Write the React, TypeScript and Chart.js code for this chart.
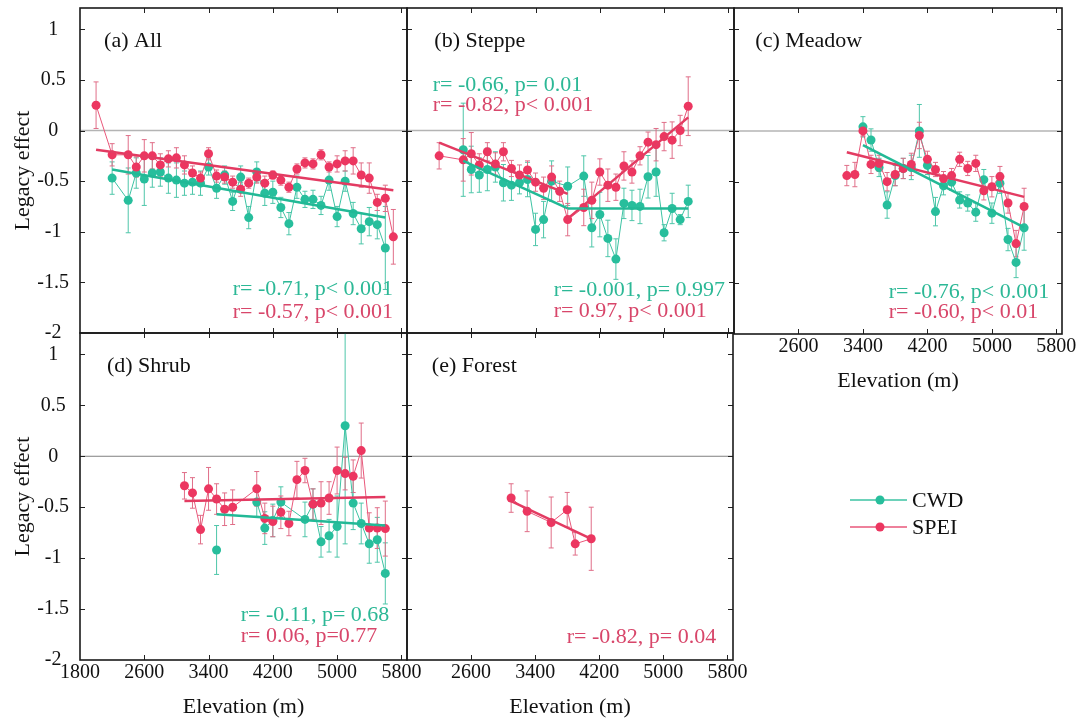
import React, { useEffect, useRef } from "react";
import { Chart, registerables } from "chart.js";

Chart.register(...registerables);

const FONT = '"Liberation Serif", "Times New Roman", serif';
const W = 1081;
const H = 722;

const TEAL = "#27be9c";
const TEAL_LINE = "#3cc3a3";
const TEAL_ERR = "#4ec6a9";
const TEAL_TREND = "#22b996";
const TEAL_TEXT = "#2cb896";
const RED = "#ec3660";
const RED_LINE = "#e9577a";
const RED_ERR = "#e06e88";
const RED_TREND = "#e33b62";
const RED_TEXT = "#d8466a";

// ---------- ticks ----------
const elevationTicks = [1800, 2600, 3400, 4200, 5000, 5800];
const effectTicks = [1, 0.5, 0, -0.5, -1, -1.5, -2];
const seriesNames = ["CWD", "SPEI"];

// ---------- (a) All ----------
const speiElevA = [2000, 2200, 2400, 2500, 2600, 2700, 2800, 2900, 3000, 3100, 3200, 3300, 3400, 3500, 3600, 3700, 3800, 3900, 4000, 4100, 4200, 4300, 4400, 4500, 4600, 4700, 4800, 4900, 5000, 5100, 5200, 5300, 5400, 5500, 5600, 5700];
const speiA = [0.25, -0.24, -0.24, -0.36, -0.25, -0.25, -0.34, -0.28, -0.27, -0.34, -0.42, -0.47, -0.23, -0.45, -0.46, -0.51, -0.58, -0.52, -0.46, -0.52, -0.44, -0.49, -0.56, -0.38, -0.32, -0.33, -0.24, -0.36, -0.33, -0.3, -0.3, -0.44, -0.47, -0.71, -0.67, -1.05];
const speiErrA = [0.23, 0.11, 0.19, 0.1, 0.16, 0.13, 0.11, 0.08, 0.1, 0.09, 0.07, 0.06, 0.06, 0.06, 0.06, 0.06, 0.07, 0.05, 0.06, 0.07, 0.04, 0.05, 0.05, 0.05, 0.05, 0.05, 0.05, 0.05, 0.08, 0.1, 0.13, 0.12, 0.15, 0.08, 0.13, 0.27];
const cwdElevA = [2200, 2400, 2500, 2600, 2700, 2800, 2900, 3000, 3100, 3200, 3300, 3400, 3500, 3600, 3700, 3800, 3900, 4000, 4100, 4200, 4300, 4400, 4500, 4600, 4700, 4800, 4900, 5000, 5100, 5200, 5300, 5400, 5500, 5600];
const cwdA = [-0.47, -0.69, -0.42, -0.48, -0.42, -0.41, -0.47, -0.49, -0.52, -0.51, -0.52, -0.36, -0.57, -0.44, -0.7, -0.46, -0.86, -0.41, -0.62, -0.61, -0.76, -0.92, -0.56, -0.68, -0.68, -0.74, -0.49, -0.85, -0.5, -0.82, -0.97, -0.9, -0.93, -1.16];
const cwdErrA = [0.16, 0.32, 0.15, 0.26, 0.14, 0.14, 0.15, 0.17, 0.12, 0.12, 0.12, 0.08, 0.1, 0.09, 0.09, 0.11, 0.11, 0.1, 0.12, 0.11, 0.1, 0.11, 0.11, 0.08, 0.09, 0.09, 0.1, 0.1, 0.1, 0.11, 0.15, 0.14, 0.14, 0.41];
const speiTrendElevA = [2000, 5700];
const speiTrendA = [-0.19, -0.59];
const cwdTrendElevA = [2200, 5600];
const cwdTrendA = [-0.385, -0.86];

// ---------- (b) Steppe ----------
const speiElevB = [2200, 2500, 2600, 2700, 2800, 2900, 3000, 3100, 3200, 3300, 3400, 3500, 3600, 3700, 3800, 4000, 4100, 4200, 4300, 4400, 4500, 4600, 4700, 4800, 4900, 5000, 5100, 5200, 5300];
const speiB = [-0.25, -0.29, -0.23, -0.34, -0.21, -0.33, -0.21, -0.375, -0.44, -0.39, -0.51, -0.57, -0.46, -0.6, -0.88, -0.76, -0.69, -0.41, -0.54, -0.56, -0.35, -0.41, -0.25, -0.115, -0.14, -0.06, -0.095, 0.0, 0.24];
const speiErrB = [0.13, 0.21, 0.21, 0.11, 0.09, 0.11, 0.09, 0.08, 0.1, 0.09, 0.09, 0.11, 0.11, 0.1, 0.16, 0.18, 0.18, 0.13, 0.16, 0.13, 0.14, 0.11, 0.09, 0.1, 0.16, 0.14, 0.18, 0.15, 0.29];
const cwdElevB = [2500, 2600, 2700, 2800, 2900, 3000, 3100, 3200, 3300, 3400, 3500, 3600, 3800, 4000, 4100, 4200, 4300, 4400, 4500, 4600, 4700, 4800, 4900, 5000, 5100, 5200, 5300];
const cwdB = [-0.19, -0.385, -0.44, -0.385, -0.36, -0.516, -0.54, -0.516, -0.484, -0.977, -0.88, -0.5, -0.55, -0.45, -0.96, -0.83, -1.066, -1.27, -0.72, -0.74, -0.75, -0.457, -0.41, -1.01, -0.77, -0.88, -0.7];
const cwdErrB = [0.46, 0.23, 0.17, 0.21, 0.15, 0.18, 0.15, 0.11, 0.17, 0.16, 0.18, 0.2, 0.19, 0.2, 0.19, 0.22, 0.18, 0.2, 0.15, 0.15, 0.17, 0.21, 0.24, 0.08, 0.15, 0.05, 0.16];
const speiTrend1ElevB = [2200, 3800];
const speiTrend1B = [-0.12, -0.625];
const speiTrend2ElevB = [3800, 5300];
const speiTrend2B = [-0.87, 0.13];
const cwdTrend1ElevB = [2500, 3800];
const cwdTrend1B = [-0.3, -0.77];
const cwdTrend2ElevB = [3800, 5300];
const cwdTrend2B = [-0.77, -0.77];

// ---------- (c) Meadow ----------
const speiElevC = [3200, 3300, 3400, 3500, 3600, 3700, 3800, 3900, 4000, 4100, 4200, 4300, 4400, 4500, 4600, 4700, 4800, 4900, 5000, 5100, 5200, 5300, 5400];
const speiC = [-0.44, -0.43, 0.0, -0.33, -0.32, -0.5, -0.43, -0.37, -0.33, -0.045, -0.28, -0.38, -0.47, -0.44, -0.28, -0.37, -0.32, -0.59, -0.55, -0.45, -0.71, -1.11, -0.745];
const speiErrC = [0.1, 0.12, 0.05, 0.09, 0.08, 0.09, 0.11, 0.1, 0.11, 0.13, 0.08, 0.07, 0.07, 0.07, 0.07, 0.07, 0.08, 0.09, 0.1, 0.1, 0.1, 0.13, 0.18];
const cwdElevC = [3400, 3500, 3600, 3700, 3800, 3900, 4000, 4100, 4200, 4300, 4400, 4500, 4600, 4700, 4800, 4900, 5000, 5100, 5200, 5300, 5400];
const cwdC = [0.04, -0.09, -0.36, -0.73, -0.44, -0.37, -0.36, 0.0, -0.34, -0.795, -0.54, -0.505, -0.68, -0.71, -0.8, -0.48, -0.81, -0.515, -1.07, -1.295, -0.955];
const cwdErrC = [0.1, 0.11, 0.09, 0.13, 0.1, 0.1, 0.12, 0.26, 0.09, 0.14, 0.09, 0.08, 0.08, 0.08, 0.09, 0.1, 0.1, 0.1, 0.11, 0.15, 0.22];
const speiTrendElevC = [3200, 5400];
const speiTrendC = [-0.21, -0.65];
const cwdTrendElevC = [3400, 5400];
const cwdTrendC = [-0.14, -0.95];

// ---------- (d) Shrub ----------
const speiElevD = [3100, 3200, 3300, 3400, 3500, 3600, 3700, 4000, 4100, 4200, 4300, 4400, 4500, 4600, 4700, 4800, 4900, 5000, 5100, 5200, 5300, 5400, 5500, 5600];
const speiD = [-0.29, -0.36, -0.72, -0.32, -0.42, -0.52, -0.5, -0.32, -0.61, -0.64, -0.55, -0.66, -0.23, -0.14, -0.47, -0.46, -0.41, -0.14, -0.17, -0.196, 0.056, -0.705, -0.705, -0.71];
const speiErrD = [0.13, 0.15, 0.14, 0.21, 0.15, 0.16, 0.17, 0.17, 0.15, 0.15, 0.16, 0.12, 0.18, 0.12, 0.15, 0.21, 0.16, 0.23, 0.16, 0.16, 0.27, 0.15, 0.2, 0.27];
const cwdElevD = [3500, 3750, 4000, 4100, 4200, 4300, 4600, 4700, 4800, 4900, 5000, 5100, 5200, 5300, 5400, 5500, 5600];
const cwdD = [-0.92, null, -0.45, -0.705, -0.63, -0.45, -0.62, -0.47, -0.84, -0.78, -0.69, 0.3, -0.46, -0.66, -0.86, -0.82, -1.15];
const cwdErrD = [0.24, null, 0.14, 0.16, 0.16, 0.15, 0.17, 0.15, 0.15, 0.16, 0.3, 1.16, 0.26, 0.2, 0.19, 0.22, 0.3];
const speiTrendElevD = [3100, 5600];
const speiTrendD = [-0.44, -0.4];
const cwdTrendElevD = [3500, 5600];
const cwdTrendD = [-0.57, -0.68];

// ---------- (e) Forest ----------
const speiElevE = [3100, 3300, 3600, 3800, 3900, 4100];
const speiE = [-0.41, -0.54, -0.65, -0.525, -0.86, -0.81];
const speiErrE = [0.14, 0.2, 0.25, 0.17, 0.11, 0.31];
const speiTrendElevE = [3100, 4100];
const speiTrendE = [-0.44, -0.81];

// ---------- panel configuration ----------
const cwdStyle = { color: TEAL, lineColor: TEAL_LINE, errColor: TEAL_ERR, order: 2 };
const speiStyle = { color: RED, lineColor: RED_LINE, errColor: RED_ERR, order: 1 };

const panels: any[] = [
  {
    key: "a",
    area: { left: 80, top: 8, right: 407, bottom: 333 },
    title: { text: "(a) All", x: 2100 },
    yLabels: true,
    xLabels: false,
    zero: { color: "#b4b4b4", width: 1.5 },
    series: [
      { name: seriesNames[0], elev: cwdElevA, vals: cwdA, errs: cwdErrA, ...cwdStyle },
      { name: seriesNames[1], elev: speiElevA, vals: speiA, errs: speiErrA, ...speiStyle },
    ],
    trends: [
      { elev: cwdTrendElevA, vals: cwdTrendA, color: TEAL_TREND },
      { elev: speiTrendElevA, vals: speiTrendA, color: RED_TREND },
    ],
    notes: [
      { text: "r= -0.71, p< 0.001", x: 3700, y: -1.57, color: TEAL_TEXT },
      { text: "r= -0.57, p< 0.001", x: 3700, y: -1.79, color: RED_TEXT },
    ],
  },
  {
    key: "b",
    area: { left: 407, top: 8, right: 734, bottom: 333 },
    title: { text: "(b) Steppe", x: 2140 },
    yLabels: false,
    xLabels: false,
    zero: { color: "#b4b4b4", width: 1.5 },
    series: [
      { name: seriesNames[0], elev: cwdElevB, vals: cwdB, errs: cwdErrB, ...cwdStyle },
      { name: seriesNames[1], elev: speiElevB, vals: speiB, errs: speiErrB, ...speiStyle },
    ],
    trends: [
      { elev: cwdTrend1ElevB, vals: cwdTrend1B, color: TEAL_TREND },
      { elev: cwdTrend2ElevB, vals: cwdTrend2B, color: TEAL_TREND },
      { elev: speiTrend1ElevB, vals: speiTrend1B, color: RED_TREND },
      { elev: speiTrend2ElevB, vals: speiTrend2B, color: RED_TREND },
    ],
    notes: [
      { text: "r= -0.66, p= 0.01", x: 2120, y: 0.45, color: TEAL_TEXT },
      { text: "r= -0.82, p< 0.001", x: 2120, y: 0.245, color: RED_TEXT },
      { text: "r= -0.001, p= 0.997", x: 3625, y: -1.58, color: TEAL_TEXT },
      { text: "r= 0.97, p< 0.001", x: 3625, y: -1.78, color: RED_TEXT },
    ],
  },
  {
    key: "c",
    area: { left: 734, top: 8, right: 1062, bottom: 334 },
    title: { text: "(c) Meadow", x: 2065 },
    yLabels: false,
    xLabels: true,
    skipFirst: true,
    zero: { color: "#b4b4b4", width: 1.5 },
    series: [
      { name: seriesNames[0], elev: cwdElevC, vals: cwdC, errs: cwdErrC, ...cwdStyle },
      { name: seriesNames[1], elev: speiElevC, vals: speiC, errs: speiErrC, ...speiStyle },
    ],
    trends: [
      { elev: cwdTrendElevC, vals: cwdTrendC, color: TEAL_TREND },
      { elev: speiTrendElevC, vals: speiTrendC, color: RED_TREND },
    ],
    notes: [
      { text: "r= -0.76, p< 0.001", x: 3720, y: -1.59, color: TEAL_TEXT },
      { text: "r= -0.60, p< 0.01", x: 3720, y: -1.79, color: RED_TEXT },
    ],
  },
  {
    key: "d",
    area: { left: 80, top: 333, right: 407, bottom: 660 },
    title: { text: "(d) Shrub", x: 2135 },
    yLabels: true,
    xLabels: true,
    skipFirst: false,
    zero: { color: "#808080", width: 1 },
    series: [
      { name: seriesNames[0], elev: cwdElevD, vals: cwdD, errs: cwdErrD, ...cwdStyle },
      { name: seriesNames[1], elev: speiElevD, vals: speiD, errs: speiErrD, ...speiStyle },
    ],
    trends: [
      { elev: cwdTrendElevD, vals: cwdTrendD, color: TEAL_TREND },
      { elev: speiTrendElevD, vals: speiTrendD, color: RED_TREND },
    ],
    notes: [
      { text: "r= -0.11, p= 0.68", x: 3800, y: -1.56, color: TEAL_TEXT },
      { text: "r= 0.06, p=0.77", x: 3800, y: -1.77, color: RED_TEXT },
    ],
  },
  {
    key: "e",
    area: { left: 407, top: 333, right: 733, bottom: 660 },
    title: { text: "(e) Forest", x: 2110 },
    yLabels: false,
    xLabels: true,
    skipFirst: true,
    zero: { color: "#808080", width: 1 },
    series: [{ name: seriesNames[1], elev: speiElevE, vals: speiE, errs: speiErrE, ...speiStyle }],
    trends: [{ elev: speiTrendElevE, vals: speiTrendE, color: RED_TREND }],
    notes: [{ text: "r= -0.82, p= 0.04", x: 3795, y: -1.78, color: RED_TEXT }],
  },
];

const pts = (xs: number[], ys: (number | null)[]) => xs.map((x, i) => ({ x, y: ys[i] }));

function makeDeco(p: any) {
  return {
    id: "deco",
    beforeDatasetsDraw(chart: any) {
      const { ctx, chartArea: a } = chart;
      const xs = chart.scales.x;
      const ys = chart.scales.y;
      ctx.save();
      const y0 = ys.getPixelForValue(0);
      ctx.strokeStyle = p.zero.color;
      ctx.lineWidth = p.zero.width;
      ctx.beginPath();
      ctx.moveTo(a.left, y0);
      ctx.lineTo(a.right, y0);
      ctx.stroke();
      ctx.beginPath();
      ctx.rect(a.left, a.top, a.right - a.left, a.bottom - a.top);
      ctx.clip();
      p.series.forEach((s: any) => {
        ctx.strokeStyle = s.errColor;
        ctx.lineWidth = 1;
        s.elev.forEach((e: number, i: number) => {
          const v = s.vals[i];
          const err = s.errs[i];
          if (v == null || err == null) return;
          const x = xs.getPixelForValue(e);
          const yt = ys.getPixelForValue(v + err);
          const yb = ys.getPixelForValue(v - err);
          ctx.beginPath();
          ctx.moveTo(x, yt);
          ctx.lineTo(x, yb);
          ctx.moveTo(x - 2.5, yt);
          ctx.lineTo(x + 2.5, yt);
          ctx.moveTo(x - 2.5, yb);
          ctx.lineTo(x + 2.5, yb);
          ctx.stroke();
        });
      });
      ctx.restore();
    },
    afterDraw(chart: any) {
      const { ctx, chartArea: a } = chart;
      const xs = chart.scales.x;
      const ys = chart.scales.y;
      ctx.save();
      ctx.strokeStyle = "#222";
      ctx.lineWidth = 1;
      const tl = 5;
      elevationTicks.forEach((v) => {
        const x = Math.round(xs.getPixelForValue(v)) + 0.5;
        if (x <= a.left + 1 || x >= a.right - 1) return;
        ctx.beginPath();
        ctx.moveTo(x, a.bottom);
        ctx.lineTo(x, a.bottom - tl);
        ctx.moveTo(x, a.top);
        ctx.lineTo(x, a.top + tl);
        ctx.stroke();
      });
      effectTicks.forEach((v) => {
        const y = Math.round(ys.getPixelForValue(v)) + 0.5;
        if (y <= a.top + 1 || y >= a.bottom - 1) return;
        ctx.beginPath();
        ctx.moveTo(a.left, y);
        ctx.lineTo(a.left + tl, y);
        ctx.moveTo(a.right, y);
        ctx.lineTo(a.right - tl, y);
        ctx.stroke();
      });
      ctx.strokeStyle = "#1a1a1a";
      ctx.lineWidth = 1.6;
      ctx.strokeRect(a.left, a.top, a.right - a.left, a.bottom - a.top);
      ctx.font = `22px ${FONT}`;
      ctx.textBaseline = "middle";
      ctx.textAlign = "left";
      ctx.fillStyle = "#111";
      ctx.fillText(p.title.text, xs.getPixelForValue(p.title.x), ys.getPixelForValue(0.885));
      p.notes.forEach((n: any) => {
        ctx.fillStyle = n.color;
        ctx.fillText(n.text, xs.getPixelForValue(n.x), ys.getPixelForValue(n.y));
      });
      ctx.restore();
    },
  };
}

function Panel({ p }: { p: any }) {
  const ref = useRef<HTMLCanvasElement | null>(null);
  useEffect(() => {
    if (!ref.current) return;
    const yw = p.yLabels ? 80 : 0;
    const xh = p.xLabels ? 60 : 0;
    const datasets: any[] = [];
    p.trends.forEach((t: any) => {
      datasets.push({
        data: pts(t.elev, t.vals),
        showLine: true,
        borderColor: t.color,
        borderWidth: 2.5,
        pointRadius: 0,
        order: 0,
      });
    });
    p.series.forEach((s: any) => {
      datasets.push({
        label: s.name,
        data: pts(s.elev, s.vals),
        showLine: true,
        spanGaps: false,
        borderColor: s.lineColor,
        borderWidth: 1,
        pointRadius: 4.5,
        pointHoverRadius: 4.5,
        pointBackgroundColor: s.color,
        pointBorderColor: s.color,
        pointBorderWidth: 0,
        order: s.order,
      });
    });
    const chart = new Chart(ref.current, {
      type: "scatter",
      data: { datasets },
      plugins: [makeDeco(p)],
      options: {
        responsive: false,
        animation: false,
        events: [],
        layout: {
          padding: {
            left: p.area.left - yw,
            top: p.area.top,
            right: W - p.area.right,
            bottom: H - p.area.bottom - xh,
          },
        },
        plugins: { legend: { display: false }, tooltip: { enabled: false } },
        scales: {
          x: {
            type: "linear",
            min: 1800,
            max: 5870,
            grid: { display: false, drawTicks: false },
            border: { display: false },
            afterBuildTicks: (s: any) => {
              s.ticks = elevationTicks.map((v) => ({ value: v }));
            },
            ticks: {
              display: p.xLabels,
              autoSkip: false,
              maxRotation: 0,
              padding: 1,
              color: "#111",
              font: { family: FONT, size: 20 },
              callback: (v: any) => (p.skipFirst && v === elevationTicks[0] ? "" : String(v)),
            },
            title: {
              display: p.xLabels,
              text: "Elevation (m)",
              color: "#111",
              font: { family: FONT, size: 22 },
              padding: { top: 0, bottom: 0 },
            },
            afterFit: (s: any) => {
              s.height = xh;
              s.paddingLeft = 0;
              s.paddingRight = 0;
            },
          },
          y: {
            type: "linear",
            min: -2,
            max: 1.21,
            grid: { display: false, drawTicks: false },
            border: { display: false },
            afterBuildTicks: (s: any) => {
              s.ticks = effectTicks.map((v) => ({ value: v }));
            },
            ticks: {
              display: p.yLabels,
              padding: 11,
              crossAlign: "center",
              color: "#111",
              font: { family: FONT, size: 20 },
              callback: (v: any) => String(v),
            },
            title: {
              display: p.yLabels,
              text: "Legacy effect",
              color: "#111",
              font: { family: FONT, size: 22 },
              padding: { top: 10, bottom: 0 },
            },
            afterFit: (s: any) => {
              s.width = yw;
              s.paddingTop = 0;
              s.paddingBottom = 0;
            },
          },
        },
      } as any,
    });
    return () => chart.destroy();
  }, [p]);
  return <canvas ref={ref} width={W} height={H} style={{ position: "absolute", left: 0, top: 0 }} />;
}

function Legend() {
  const rows = [
    { name: seriesNames[0], color: TEAL, line: TEAL_LINE, cy: 500 },
    { name: seriesNames[1], color: RED, line: RED_LINE, cy: 527 },
  ];
  return (
    <>
      {rows.map((r) => (
        <div
          key={r.name}
          style={{
            position: "absolute",
            left: 850,
            top: r.cy - 14,
            height: 28,
            display: "flex",
            alignItems: "center",
            font: `22px ${FONT}`,
            color: "#111",
            whiteSpace: "nowrap",
          }}
        >
          <svg width={57} height={12} style={{ display: "block" }}>
            <line x1={0} y1={6} x2={57} y2={6} stroke={r.line} strokeWidth={1.5} />
            <circle cx={30} cy={6} r={4.5} fill={r.color} />
          </svg>
          <span style={{ marginLeft: 5, lineHeight: "28px" }}>{r.name}</span>
        </div>
      ))}
    </>
  );
}

export default function App() {
  return (
    <div style={{ position: "absolute", left: 0, top: 0, width: W, height: H, background: "#fff", overflow: "hidden" }}>
      {panels.map((p) => (
        <Panel key={p.key} p={p} />
      ))}
      <Legend />
    </div>
  );
}
